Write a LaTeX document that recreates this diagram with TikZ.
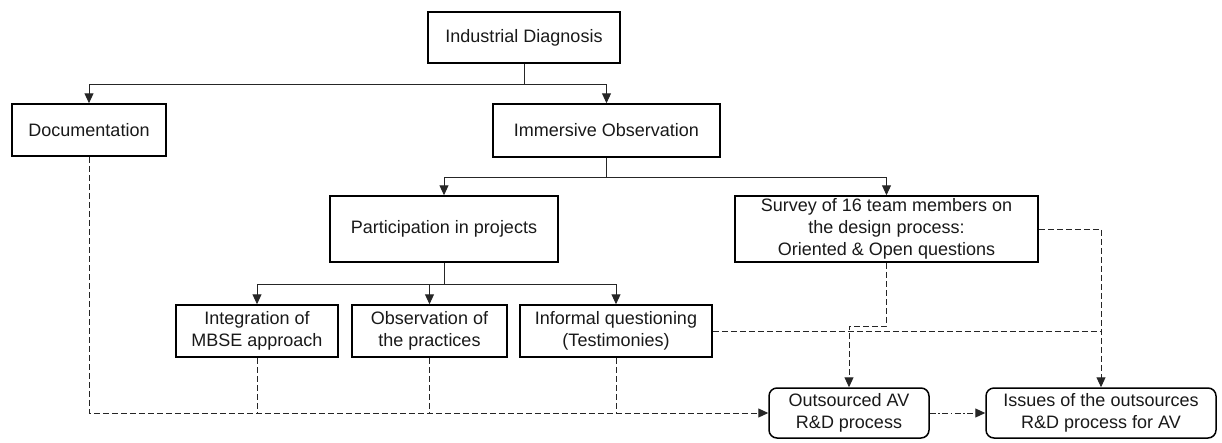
\documentclass[tikz,border=0pt]{standalone}
\usepackage{fontspec}
\setmainfont{Liberation Sans}
\usetikzlibrary{arrows.meta}
\begin{document}
\begin{tikzpicture}[x=1pt,y=-1pt,
  box/.style={draw=black,line width=1.5pt,inner sep=0pt,align=center,
    text=black!90,font=\fontsize{18}{22}\selectfont},
  rbox/.style={box,rounded corners=8pt},
  conn/.style={draw=black!85,line width=1pt,-{Triangle[length=10pt,width=9pt]}},
  plain/.style={draw=black!85,line width=1pt},
  dashconn/.style={conn,dash pattern=on 6pt off 3pt},
  dashplain/.style={plain,dash pattern=on 6pt off 3pt},
  dashdotconn/.style={conn,dash pattern=on 6pt off 2.5pt on 1.5pt off 2.5pt}]
\useasboundingbox (0,0) rectangle (1222,442);
\node[box,minimum width=192pt,minimum height=51pt] (ind) at (524,37.5) {Industrial Diagnosis};
\node[box,minimum width=154pt,minimum height=52pt] (doc) at (89,130) {Documentation};
\node[box,minimum width=227pt,minimum height=53pt] (imm) at (606.5,130.5) {Immersive Observation};
\node[box,minimum width=228pt,minimum height=66pt] (par) at (444,229) {Participation in projects};
\node[box,minimum width=303pt,minimum height=66pt] (sur) at (886.5,229) {Survey of 16 team members on\\the design process:\\Oriented \& Open questions};
\node[box,minimum width=162pt,minimum height=52pt] (int) at (257,331) {Integration of\\MBSE approach};
\node[box,minimum width=155pt,minimum height=52pt] (obs) at (429.5,331) {Observation of\\the practices};
\node[box,minimum width=192pt,minimum height=52pt] (inf) at (616,331) {Informal questioning\\(Testimonies)};
\node[rbox,minimum width=160pt,minimum height=50pt] (out) at (849,413) {Outsourced AV\\R\&D process};
\node[rbox,minimum width=230pt,minimum height=50pt] (iss) at (1101,413) {Issues of the outsources\\R\&D process for AV};
% tree connectors
\coordinate (j1) at (524,84);
\coordinate (j2) at (606.5,177);
\coordinate (j3) at (444,284);
\draw[plain] (ind.south) -- (j1);
\draw[conn] (j1) -| (doc.north);
\draw[conn] (j1) -| (imm.north);
\draw[plain] (imm.south) -- (j2);
\draw[conn] (j2) -| (par.north);
\draw[conn] (j2) -| (sur.north);
\draw[plain] (par.south) -- (j3);
\draw[conn] (j3) -| (int.north);
\draw[conn] (j3) -| (obs.north);
\draw[conn] (j3) -| (inf.north);
% dashed connectors
\draw[dashconn] (doc.south) |- (out.west);
\draw[dashplain] (int.south) -- (int.south |- out.west);
\draw[dashplain] (obs.south) -- (obs.south |- out.west);
\draw[dashplain] (inf.south) -- (inf.south |- out.west);
\coordinate (s1) at (886.5,326);
\draw[dashconn] (sur.south) -- (s1) -| (out.north);
\draw[dashconn] (sur.east) -| (iss.north);
\draw[dashplain] (inf.east) -- (inf.east -| iss.north);
\draw[dashdotconn] (out.east) -- (iss.west);
\end{tikzpicture}
\end{document}
